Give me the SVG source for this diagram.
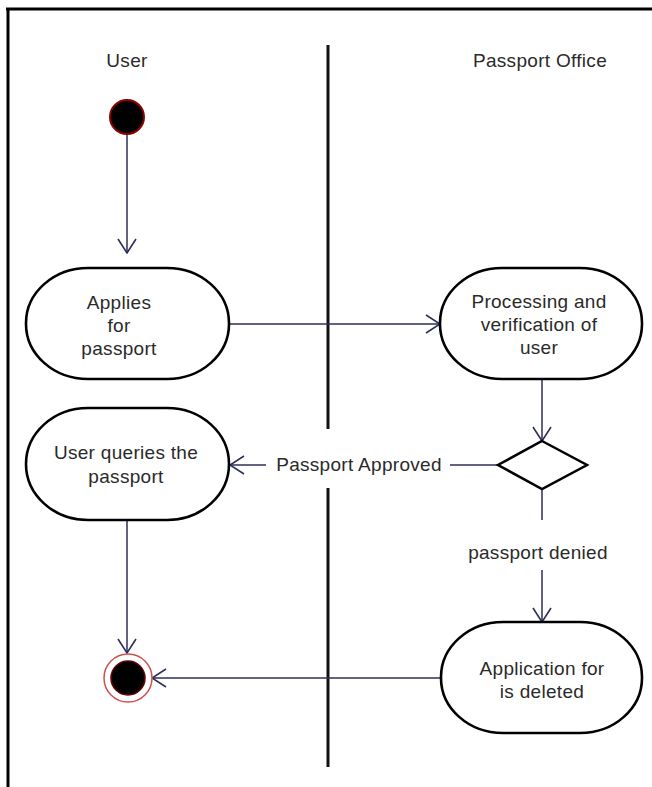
<svg xmlns="http://www.w3.org/2000/svg" width="652" height="787" viewBox="0 0 652 787">
<defs>
<marker id="open" viewBox="0 0 16 20" refX="15" refY="10" markerWidth="16" markerHeight="20" markerUnits="userSpaceOnUse" orient="auto">
<path d="M1,1 L15,10 L1,19" fill="none" stroke="#2e2e5a" stroke-width="1.6"/>
</marker>
</defs>
<style>
.t{font-family:"Liberation Sans",Arial,sans-serif;font-size:19px;fill:#2a2a2a;text-anchor:middle;letter-spacing:0.3px}
.node{fill:#fff;stroke:#000;stroke-width:2.6}
.c{fill:none;stroke:#2e2e5a;stroke-width:1.5}
.ca{fill:none;stroke:#2e2e5a;stroke-width:1.5;marker-end:url(#open)}
.frame{stroke:#000;stroke-width:3;fill:none}
</style>
<rect width="652" height="787" fill="#fff"/>
<g id="frame">
<line class="frame" x1="6" y1="9" x2="652" y2="9"/>
<line class="frame" x1="8" y1="8" x2="8" y2="787"/>
<line x1="328" y1="45" x2="328" y2="429" stroke="#111" stroke-width="3"/>
<line x1="328" y1="488" x2="328" y2="767" stroke="#111" stroke-width="3"/>
</g>
<g id="lanes">
<text class="t" x="127" y="67">User</text>
<text class="t" x="540" y="67">Passport Office</text>
</g>
<g id="connectors">
<line class="ca" x1="127" y1="134" x2="127" y2="253"/>
<line class="ca" x1="230" y1="324" x2="440" y2="324"/>
<line class="ca" x1="542" y1="380" x2="542" y2="441"/>
<line class="c" x1="498" y1="465" x2="450" y2="465"/>
<line class="ca" x1="266" y1="465" x2="230" y2="465"/>
<line class="c" x1="542" y1="489" x2="542" y2="520"/>
<line class="ca" x1="542" y1="570" x2="542" y2="622"/>
<line class="ca" x1="127" y1="520" x2="127" y2="653"/>
<line class="ca" x1="442" y1="678" x2="152" y2="678"/>
<text class="t" x="359" y="471">Passport Approved</text>
<text class="t" x="538" y="559">passport denied</text>
</g>
<g id="start">
<circle cx="127" cy="117" r="17" fill="#000" stroke="#8b0000" stroke-width="2"/>
</g>
<g id="applies">
<rect class="node" x="26" y="268" width="203" height="111" rx="62" ry="55"/>
<text class="t" x="119" y="309">Applies</text>
<text class="t" x="119" y="332">for</text>
<text class="t" x="119" y="355">passport</text>
</g>
<g id="processing">
<rect class="node" x="440" y="268" width="202" height="111" rx="62" ry="55"/>
<text class="t" x="539" y="308">Processing and</text>
<text class="t" x="539" y="331">verification of</text>
<text class="t" x="539" y="354">user</text>
</g>
<g id="decision">
<polygon points="542,441 587,465 542,489 498,465" fill="#fff" stroke="#000" stroke-width="2.5"/>
</g>
<g id="queries">
<rect class="node" x="26" y="408" width="203" height="112" rx="62" ry="56"/>
<text class="t" x="126" y="459">User queries the</text>
<text class="t" x="126" y="483">passport</text>
</g>
<g id="deleted">
<rect class="node" x="441" y="622" width="201" height="111" rx="62" ry="55"/>
<text class="t" x="542" y="675">Application for</text>
<text class="t" x="542" y="698">is deleted</text>
</g>
<g id="end">
<circle cx="128" cy="678" r="24" fill="#fff" stroke="#d05050" stroke-width="1.5"/>
<circle cx="128" cy="678" r="17" fill="#000" stroke="#6b0000" stroke-width="1.5"/>
</g>
</svg>
